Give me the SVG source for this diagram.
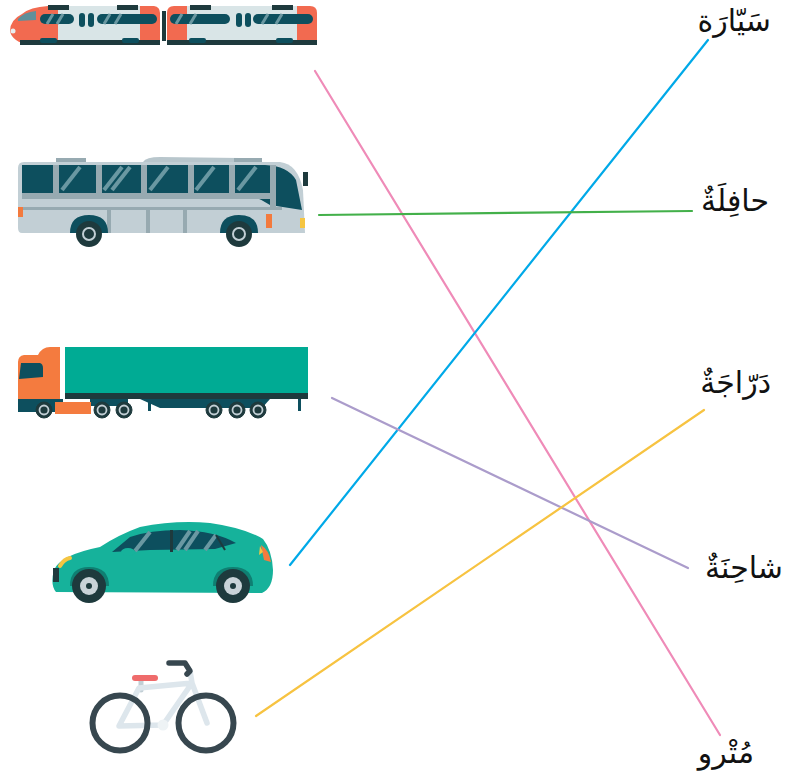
<svg xmlns="http://www.w3.org/2000/svg" width="786" height="776" viewBox="0 0 786 776">
<style>
.lbl{font-family:"Noto Sans","DejaVu Sans",sans-serif;font-size:30px;fill:#111;text-anchor:end}
.ln{stroke-width:2.2;fill:none;stroke-linecap:round}
.win{fill:#0d4f5e}
.dk{fill:#1e3a3d}
.tr{fill:#f26a50}
.tb{fill:#d9e5e7}
</style>
<rect width="786" height="776" fill="#fff"/>
<g id="train">
  <path class="tr" d="M22,14 Q30,7 48,6 L58,6 L58,45 L30,45 Q12,42 10,31 Q10,20 22,14 Z"/>
  <rect class="tb" x="58" y="6" width="82" height="39"/>
  <path class="tr" d="M140,6 L154,6 Q160,7 160,13 L160,45 L140,45 Z"/>
  <path d="M18,19 Q24,12 36,11 L36,20 L18,21 Z" fill="#5f8f9a"/>
  <circle cx="13" cy="31" r="2.5" fill="#e8eef0"/>
  <rect class="dk" x="48" y="5" width="21" height="5"/>
  <rect class="dk" x="117" y="5" width="21" height="5"/>
  <rect class="win" x="40" y="14" width="34" height="10" rx="5"/>
  <rect class="win" x="79" y="13" width="6" height="14" rx="3"/>
  <rect class="win" x="88" y="13" width="6" height="14" rx="3"/>
  <rect class="win" x="97" y="14" width="60" height="10" rx="5"/>
  <g stroke="#6a98a2" stroke-width="3">
    <line x1="47" y1="24" x2="53" y2="14"/><line x1="57" y1="24" x2="63" y2="14"/>
    <line x1="104" y1="24" x2="110" y2="14"/><line x1="115" y1="24" x2="121" y2="14"/>
  </g>
  <rect class="dk" x="20" y="40" width="140" height="5"/>
  <rect x="40" y="38" width="17" height="5" rx="2" fill="#0d4f5e"/>
  <rect x="122" y="38" width="17" height="5" rx="2" fill="#0d4f5e"/>
  <rect class="dk" x="162" y="11" width="4" height="30"/>
  <path class="tr" d="M167,13 Q167,6 174,6 L187,6 L187,45 L167,45 Z"/>
  <rect class="tb" x="187" y="6" width="110" height="39"/>
  <path class="tr" d="M297,6 L310,6 Q317,6 317,13 L317,45 L297,45 Z"/>
  <rect class="dk" x="190" y="5" width="21" height="5"/>
  <rect class="dk" x="272" y="5" width="21" height="5"/>
  <rect class="win" x="170" y="14" width="60" height="10" rx="5"/>
  <rect class="win" x="236" y="13" width="6" height="14" rx="3"/>
  <rect class="win" x="245" y="13" width="6" height="14" rx="3"/>
  <rect class="win" x="253" y="14" width="60" height="10" rx="5"/>
  <g stroke="#6a98a2" stroke-width="3">
    <line x1="176" y1="24" x2="182" y2="14"/><line x1="190" y1="24" x2="196" y2="14"/>
    <line x1="262" y1="24" x2="268" y2="14"/><line x1="276" y1="24" x2="282" y2="14"/>
  </g>
  <rect class="dk" x="167" y="40" width="150" height="5"/>
  <rect x="189" y="38" width="17" height="5" rx="2" fill="#0d4f5e"/>
  <rect x="276" y="38" width="17" height="5" rx="2" fill="#0d4f5e"/>
</g>
<g id="bus">
  <path d="M143,162 Q146,157 160,157 L240,158 L250,162 Z" fill="#b8c6cc"/>
  <rect x="56" y="158" width="30" height="7" fill="#97aab1"/>
  <rect x="234" y="158" width="28" height="7" fill="#97aab1"/>
  <path d="M24,162 L280,162 Q298,164 303,190 L305,233 L22,233 Q18,233 18,228 L18,168 Q18,162 24,162 Z" fill="#c2cfd5"/>
  <path d="M22,165 L265,165 Q288,166 296,180 L302,210 L270,205 Q250,192 230,193 L22,193 Z" fill="#0d4f5e"/>
  <g fill="#97aab1">
    <rect x="53" y="165" width="6" height="28"/><rect x="96" y="165" width="6" height="28"/>
    <rect x="141" y="165" width="6" height="28"/><rect x="188" y="165" width="6" height="28"/>
    <rect x="229" y="165" width="6" height="28"/><rect x="270" y="165" width="6" height="45"/>
    <rect x="22" y="193" width="250" height="6"/>
    <rect x="22" y="207" width="260" height="3"/>
  </g>
  <g stroke="#6a98a2" stroke-width="4">
    <line x1="62" y1="190" x2="80" y2="167"/><line x1="104" y1="190" x2="122" y2="167"/><line x1="112" y1="190" x2="130" y2="167"/>
    <line x1="150" y1="190" x2="168" y2="167"/><line x1="196" y1="190" x2="214" y2="167"/><line x1="238" y1="190" x2="256" y2="167"/>
  </g>
  <g fill="#97aab1"><rect x="107" y="210" width="4" height="23"/><rect x="146" y="210" width="4" height="23"/><rect x="183" y="210" width="4" height="23"/></g>
  <rect x="18" y="207" width="5" height="10" fill="#f37a3d"/>
  <rect x="266" y="214" width="6" height="14" fill="#f37a3d"/>
  <rect x="300" y="218" width="5" height="10" fill="#f5c542"/>
  <rect x="303" y="172" width="5" height="14" fill="#1e3a3d"/>
  <path d="M70,233 Q70,215 89,215 Q108,215 108,233 Z" fill="#0d4f5e"/>
  <path d="M220,233 Q220,215 239,215 Q258,215 258,233 Z" fill="#0d4f5e"/>
  <circle cx="89" cy="234" r="13" fill="#1e3a3d"/>
  <circle cx="89" cy="234" r="6" fill="none" stroke="#c2cfd5" stroke-width="2"/>
  <circle cx="239" cy="234" r="13" fill="#1e3a3d"/>
  <circle cx="239" cy="234" r="6" fill="none" stroke="#c2cfd5" stroke-width="2"/>
</g>
<g id="truck">
  <rect x="65" y="347" width="243" height="46" fill="#00ab94"/>
  <rect x="65" y="393" width="243" height="6" fill="#1e3a3d"/>
  <path d="M140,399 L270,399 L262,408 L160,408 Z" fill="#0d4f5e"/>
  <rect x="90" y="399" width="38" height="7" fill="#0d4f5e"/>
  <rect x="148" y="401" width="3" height="10" fill="#0d4f5e"/>
  <rect x="298" y="399" width="3" height="12" fill="#0d4f5e"/>
  <path d="M18,362 Q18,356 24,355 L38,355 Q42,347 50,347 L60,347 L60,405 L18,405 Z" fill="#f47b3f"/>
  <path d="M21,363 L40,363 Q43,364 43,368 L43,377 L19,379 Z" fill="#0d4f5e"/>
  <rect x="18" y="399" width="45" height="13" fill="#0d4f5e"/>
  <rect x="55" y="402" width="36" height="12" fill="#f47b3f"/>
  <g fill="#1e3a3d" stroke="#1e3a3d">
    <circle cx="44" cy="410" r="8"/><circle cx="102" cy="410" r="8"/><circle cx="124" cy="410" r="8"/>
    <circle cx="214" cy="410" r="8"/><circle cx="237" cy="410" r="8"/><circle cx="258" cy="410" r="8"/>
  </g>
  <g fill="none" stroke="#c2cfd5" stroke-width="1.8">
    <circle cx="44" cy="410" r="4.5"/><circle cx="102" cy="410" r="4.5"/><circle cx="124" cy="410" r="4.5"/>
    <circle cx="214" cy="410" r="4.5"/><circle cx="237" cy="410" r="4.5"/><circle cx="258" cy="410" r="4.5"/>
  </g>
</g>
<g id="car">
  <path d="M56,592 Q50,585 54,570 Q60,555 100,547 Q118,535 140,527 Q175,520 210,523 Q245,528 263,539 Q272,550 273,570 Q273,588 262,593 Z" fill="#16b29b"/>
  <path d="M112,552 L130,537 Q150,530 180,530 Q215,531 236,543 L215,549 L150,550 Z" fill="#0d4f5e"/>
  <g stroke="#6a98a2" stroke-width="4">
    <line x1="135" y1="551" x2="150" y2="532"/><line x1="177" y1="550" x2="190" y2="531"/><line x1="185" y1="550" x2="198" y2="531"/><line x1="205" y1="550" x2="216" y2="535"/>
  </g>
  <rect x="170" y="530" width="3" height="22" fill="#1e3a3d"/>
  <path d="M216,535 L225,550" stroke="#1e3a3d" stroke-width="2"/>
  <ellipse cx="128" cy="552" rx="7" ry="4" fill="#16b29b"/>
  <path d="M60,566 Q64,559 70,558" stroke="#f5c542" stroke-width="4" fill="none" stroke-linecap="round"/>
  <rect x="53" y="568" width="6" height="14" fill="#1e3a3d"/>
  <path d="M261,545 Q269,550 271,562 L264,560 Z" fill="#f47b3f"/>
  <path d="M260,546 L263,552 L259,555 Z" fill="#f5c542"/>
  <path d="M70,586 Q70,567 89,567 Q109,567 109,586 Z" fill="#0f7f72"/>
  <path d="M213,586 Q213,567 233,567 Q253,567 253,586 Z" fill="#0f7f72"/>
  <circle cx="89" cy="586" r="17" fill="#1e3a3d"/>
  <circle cx="89" cy="586" r="9" fill="#c9d3d8"/>
  <circle cx="89" cy="586" r="3" fill="#1e3a3d"/>
  <circle cx="233" cy="586" r="17" fill="#1e3a3d"/>
  <circle cx="233" cy="586" r="9" fill="#c9d3d8"/>
  <circle cx="233" cy="586" r="3" fill="#1e3a3d"/>
</g>
<g id="bicycle" stroke-linecap="round" stroke-linejoin="round" fill="none">
  <path d="M141,680 L141,690" stroke="#c2cfd5" stroke-width="5"/>
  <path d="M119,726 L139,688 L192,683 L163,725 Z M192,683 L207,723 M192,683 L190,671" stroke="#dde6ec" stroke-width="5.5"/>
  <circle cx="163" cy="725" r="5.5" fill="#eef3f5" stroke="none"/>
  <circle cx="120" cy="723" r="27.5" stroke="#37474f" stroke-width="6"/>
  <circle cx="206" cy="723" r="27.5" stroke="#37474f" stroke-width="6"/>
  <path d="M169,663 L185,663 L190,671 L187,674" stroke="#37474f" stroke-width="5.5"/>
  <path d="M135,678 L155,678" stroke="#ef6b6b" stroke-width="6"/>
</g>
<g id="connectors">
  <line class="ln" x1="315" y1="71" x2="720" y2="735" stroke="#ef8bb8"/>
  <line class="ln" x1="290" y1="565" x2="708" y2="40" stroke="#00a9e8"/>
  <line class="ln" x1="319" y1="215" x2="692" y2="211" stroke="#43b04a"/>
  <line class="ln" x1="332" y1="398" x2="688" y2="568" stroke="#ab9ccb"/>
  <line class="ln" x1="256" y1="716" x2="704" y2="410" stroke="#f7c341"/>
</g>
<g id="labels">
  <text class="lbl" x="771" y="31">سَيّارَة</text>
  <text class="lbl" x="769" y="211">حافِلَةٌ</text>
  <text class="lbl" x="771" y="393">دَرّاجَةٌ</text>
  <text class="lbl" x="783" y="578">شاحِنَةٌ</text>
  <text class="lbl" x="754" y="763">مُتْرو</text>
</g>
</svg>
